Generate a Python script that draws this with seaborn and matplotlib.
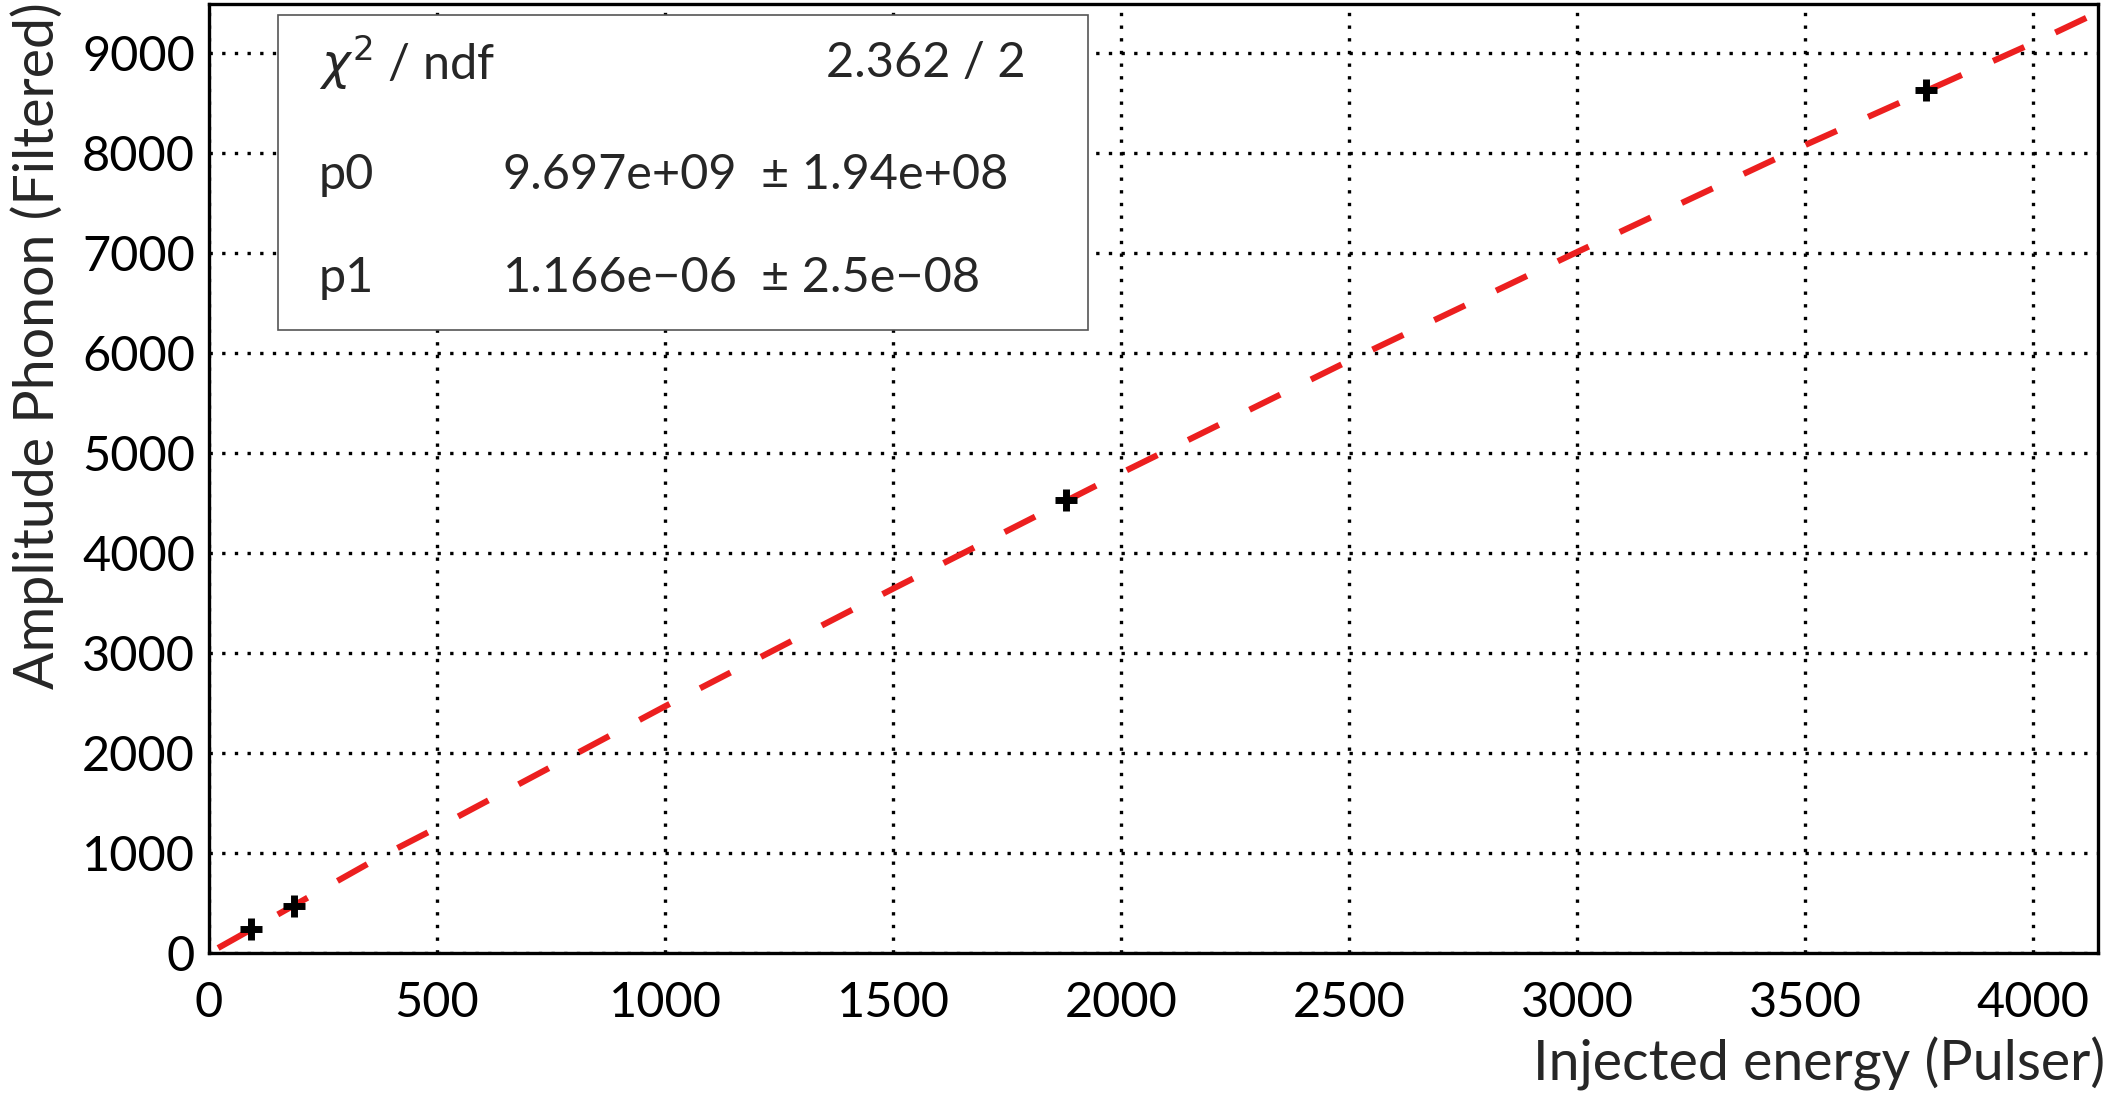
import matplotlib
matplotlib.use("Agg")
import matplotlib.pyplot as plt
import pandas as pd
import seaborn as sns
from matplotlib.ticker import MultipleLocator

sns.set_style("white")
plt.rcParams['font.family'] = ['Lato', 'DejaVu Sans']
plt.rcParams['mathtext.fontset'] = 'dejavusans'

energy = [93, 187, 1880, 3765]
amplitude = [240, 473, 4535, 8630]

# fit curve as drawn
fit_x = [20, 375, 500, 1000, 1500, 2000, 2500, 3000, 3500, 4000, 4125]
fit_y = [50, 960, 1253, 2467, 3643, 4800, 5923, 7010, 8080, 9100, 9370]

# fit statistics box
stat_names = [r"$\chi^{2}$ / ndf", "p0", "p1"]
stat_values = ["2.362 / 2", "9.697e+09", "1.166e\u221206"]
stat_errors = ["", "\u00b1 1.94e+08", "\u00b1 2.5e\u221208"]

points = pd.DataFrame({"energy": energy, "amplitude": amplitude})
fit = pd.DataFrame({"x": fit_x, "y": fit_y})

fig = plt.figure(figsize=(21.09, 11.01), dpi=100)
ax = fig.add_axes([209 / 2109, 1 - 953 / 1101, 1889 / 2109, 949 / 1101])

ax.grid(True, color="black", linestyle=(0, (1, 2.8)), linewidth=2.4)
ax.set_axisbelow(True)

sns.lineplot(data=fit, x="x", y="y", ax=ax, sort=False, estimator=None,
             color="#ec1f1f", linewidth=4.4)
fit_line = ax.get_lines()[0]
fit_line.set_linestyle((0, (5.6, 5.6)))
fit_line.set_dash_capstyle("butt")

sns.scatterplot(data=points, x="energy", y="amplitude", ax=ax, marker="+",
                s=260, linewidth=5, color="black", zorder=5)

ax.set_xlim(0, 4142)
ax.set_ylim(0, 9490)
ax.xaxis.set_major_locator(MultipleLocator(500))
ax.xaxis.set_minor_locator(MultipleLocator(100))
ax.yaxis.set_major_locator(MultipleLocator(1000))
ax.yaxis.set_minor_locator(MultipleLocator(200))

ax.tick_params(axis="both", which="both", direction="in", width=2.4,
               labelsize=35, colors="black")
ax.tick_params(axis="x", which="major", length=20, pad=20)
ax.tick_params(axis="x", which="minor", length=10)
ax.tick_params(axis="y", which="major", length=37, pad=10)
ax.tick_params(axis="y", which="minor", length=20)

for sp in ax.spines.values():
    sp.set_linewidth(2.4)
    sp.set_color("black")

ax.set_xlabel("Injected energy (Pulser)", fontsize=40, loc="right")
ax.xaxis.set_label_coords(1.004, -0.088)
ax.set_ylabel("Amplitude Phonon (Filtered)", fontsize=40, loc="top")
ax.yaxis.set_label_coords(-0.077, 1.002)

# stats box
box = plt.Rectangle((278, 1101 - 330), 810, 315, transform=None,
                    facecolor="white", edgecolor="#555555", linewidth=1.2,
                    zorder=6)
fig.patches.append(box)
rows_y = [1101 - 63, 1101 - 175, 1101 - 278]
for i in range(3):
    fig.text(319 / 2109, rows_y[i] / 1101, stat_names[i], fontsize=35,
             va="center", ha="left", zorder=7)
    if i == 0:
        fig.text(1025 / 2109, rows_y[i] / 1101, stat_values[i], fontsize=35,
                 va="center", ha="right", zorder=7)
    else:
        fig.text(620 / 2109, rows_y[i] / 1101, stat_values[i], fontsize=35,
                 va="center", ha="center", zorder=7)
        fig.text(761 / 2109, rows_y[i] / 1101, stat_errors[i], fontsize=35,
                 va="center", ha="left", zorder=7)

plt.savefig("out.png", dpi=100)
